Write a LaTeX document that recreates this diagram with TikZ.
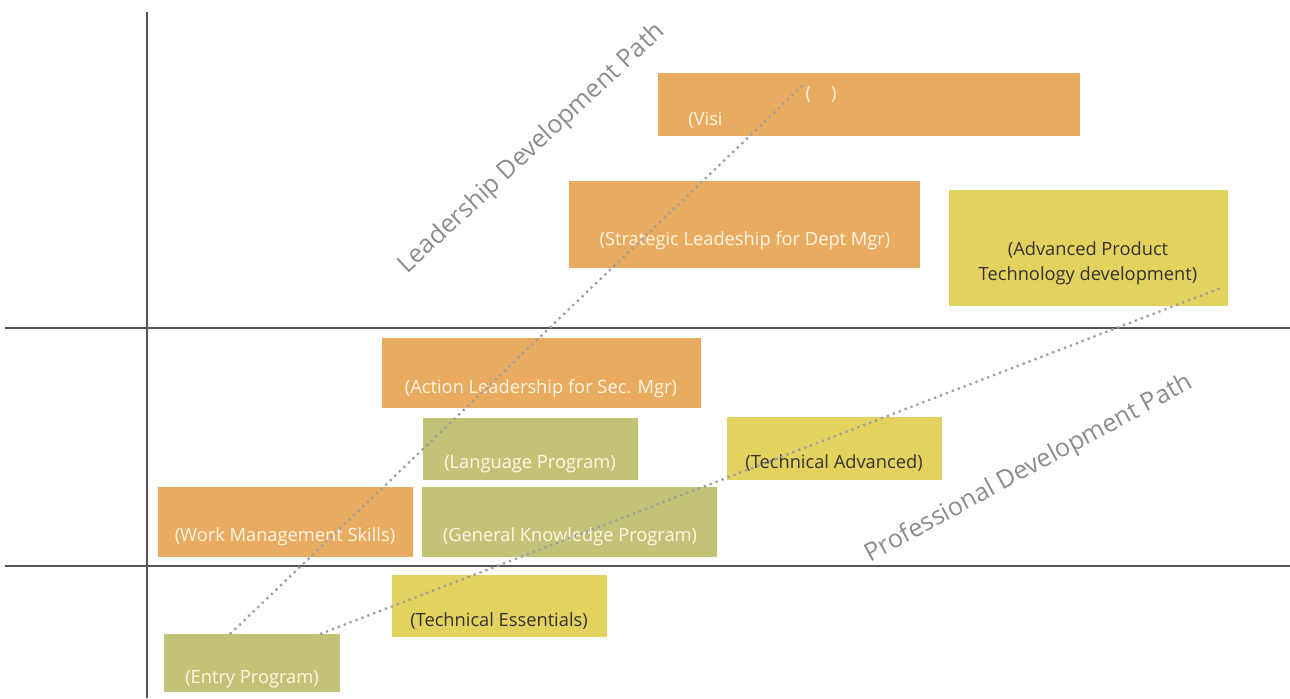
\documentclass[tikz,border=0pt]{standalone}
\usepackage{fontspec}
\setmainfont{Open Sans}
\usepackage{tikz}
\usetikzlibrary{positioning}
\definecolor{orangebox}{HTML}{E9AB5F}
\definecolor{olivebox}{HTML}{C3C378}
\definecolor{yellowbox}{HTML}{E3D35E}
\definecolor{palecream}{HTML}{FFF6E6}
\definecolor{axisgray}{HTML}{555555}
\definecolor{pathgray}{HTML}{9D9DA6}
\tikzstyle{orange} = [rectangle, inner sep=0pt, fill=orangebox]
\tikzstyle{olive} = [rectangle, inner sep=0pt, fill=olivebox]
\tikzstyle{yellow} = [rectangle, inner sep=0pt, fill=yellowbox]
\tikzstyle{light} = [inner sep=0pt, text=palecream, font=\fontsize{10.4}{12.5}\selectfont]
\tikzstyle{dark} = [inner sep=0pt, text=black!80, align=center, font=\fontsize{10.4}{14}\selectfont]
\tikzstyle{track} = [line width=1.3pt, pathgray, dash pattern=on 1.3pt off 2.3pt]
\tikzstyle{pathlabel} = [inner sep=0pt, text=black!45, font=\fontsize{14.3}{16}\selectfont]
\tikzstyle{axis} = [axisgray, line width=0.8pt]

\begin{document}
\begin{tikzpicture}[x=0.02cm, y=0.02cm]
	\useasboundingbox (0,0) rectangle (1290,698);
	% grid
	\draw [axis] (147,0) -- (147,686);
	\draw [axis, line width=0.6pt] (5,370) -- (1290,370);
	\draw [axis, line width=0.6pt] (5,132) -- (1290,132);
	% boxes
	\node (visi) [orange, minimum width=8.44cm, minimum height=1.26cm] at (869,593.5) {};
	\node (strat) [orange, minimum width=7.02cm, minimum height=1.74cm] at (744.5,473.5) {};
	\node (adv) [yellow, minimum width=5.58cm, minimum height=2.32cm] at (1088.5,450) {};
	\node (action) [orange, minimum width=6.38cm, minimum height=1.40cm] at (541.5,325) {};
	\node (lang) [olive, minimum width=4.30cm, minimum height=1.24cm] at (530.5,249) {};
	\node (techadv) [yellow, minimum width=4.30cm, minimum height=1.26cm] at (834.5,249.5) {};
	\node (work) [orange, minimum width=5.10cm, minimum height=1.40cm] at (285.5,176) {};
	\node (general) [olive, minimum width=5.90cm, minimum height=1.40cm] at (569.5,176) {};
	\node (techess) [yellow, minimum width=4.30cm, minimum height=1.24cm] at (499.5,92) {};
	\node (entry) [olive, minimum width=3.52cm, minimum height=1.16cm] at (252,35) {};
	% texts
	\node (visitxt) [light, anchor=west] at (688,578) {(Visi};
	\node (blanktxt) [light] at (821,604) {(\hspace{1.1em})};
	\node (strattxt) [light] at (745,457) {(Strategic Leadeship for Dept Mgr)};
	\node (advtxt) [dark] at (1088,435) {(Advanced Product\\Technology development)};
	\node (actiontxt) [light] at (541,309) {(Action Leadership for Sec. Mgr)};
	\node (langtxt) [light] at (530,234) {(Language Program)};
	\node (techadvtxt) [dark] at (834,235) {(Technical Advanced)};
	\node (worktxt) [light] at (285,161) {(Work Management Skills)};
	\node (generaltxt) [light] at (570,161) {(General Knowledge Program)};
	\node (techesstxt) [dark] at (499,77) {(Technical Essentials)};
	\node (entrytxt) [light] at (252,19) {(Entry Program)};
	% paths
	\coordinate (lstart) at (230,64);
	\coordinate (pstart) at (320,64);
	\draw [track] (lstart) -- ([xshift=-0.06cm]blanktxt.north west);
	\draw [track] (pstart) -- ([xshift=-0.12cm, yshift=0.38cm]adv.south east);
	\node (leadlabel) [pathlabel, rotate=43] at (532,549) {Leadership Development Path};
	\node (proflabel) [pathlabel, rotate=28.4] at (1029,229) {Professional Development Path};
\end{tikzpicture}
\end{document}
